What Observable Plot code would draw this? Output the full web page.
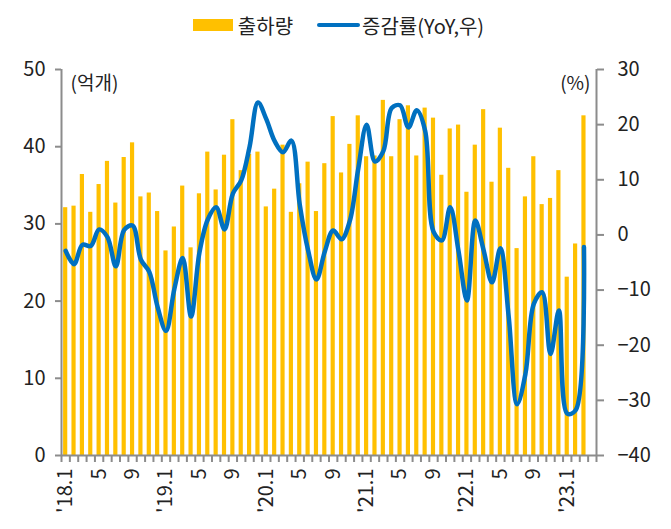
<!DOCTYPE html>
<html><head><meta charset="utf-8">
<script src="https://cdn.jsdelivr.net/npm/d3@7"></script>
<script src="https://cdn.jsdelivr.net/npm/@observablehq/plot@0.6"></script>
<style>
body{margin:0;background:#fff;font-family:"Noto Sans CJK KR","Noto Sans",sans-serif;color:#222;}
#legend{height:50px;display:flex;justify-content:center;align-items:center;font-size:20px;padding-left:6px;box-sizing:border-box;}
#legend .sw{display:inline-block;}
</style></head><body>
<div id="legend">
  <span class="sw" style="width:40px;height:12px;background:#FFC000;margin-right:5px"></span><span>출하량</span>
  <span class="sw" style="width:43px;height:4px;background:#0070C0;border-radius:2px;margin-left:24px;margin-right:2px"></span><span>증감률(YoY,우)</span>
</div>
<div id="chart"></div>
<script>
// 출하량 (억개), 2018.1 ~ 2023.3
const shipments = [
  32.1, 32.3, 36.4, 31.5, 35.1, 38.1, 32.7, 38.6, 40.5, 33.5, 34.0, 31.6,
  26.5, 29.6, 34.9, 26.9, 33.9, 39.3, 34.4, 38.9, 43.5, 36.9, 39.0, 39.3,
  32.2, 34.5, 40.2, 31.5, 35.2, 38.0, 31.6, 37.8, 43.9, 36.6, 40.3, 44.0,
  38.7, 38.8, 46.0, 38.7, 43.5, 45.3, 38.8, 45.0, 43.7, 36.3, 42.3, 42.8,
  34.1, 40.2, 44.8, 35.4, 42.4, 37.2, 26.8, 33.5, 38.7, 32.5, 33.3, 36.9,
  23.1, 27.4, 44.0
];
// 증감률 (YoY, %)
const yoy = [
  -2.9, -5.3, -1.8, -2.0, 1.0, -0.4, -5.7, 0.9, 1.7, -4.5, -6.7, -13.1,
  -17.4, -9.8, -4.2, -14.8, -3.2, 2.8, 5.0, 1.0, 7.5, 9.9, 16.0, 24.0,
  21.0, 17.0, 15.0, 17.1, 5.5, -2.8, -8.1, -3.0, 0.8, -0.8, 2.6, 12.0,
  20.0, 13.3, 15.2, 23.0, 23.5, 19.5, 22.6, 18.9, 0.6, -1.0, 5.0, -3.0,
  -11.9, 2.6, -2.8, -8.6, -2.4, -14.9, -30.7, -25.2, -12.5, -10.4, -21.6, -13.7,
  -32.4, -31.8, -2.2
];
const slotCount = 64; // monthly slots on the axis (2018.1 ~ 2023.4)
const tickLabels = ["'18.1","5","9","'19.1","5","9","'20.1","5","9","'21.1","5","9","'22.1","5","9","'23.1"];
const tickEvery = 4;
const leftTicks = [0, 10, 20, 30, 40, 50];
const rightTicks = [-40, -30, -20, -10, 0, 10, 20, 30];
const leftDomain = [0, 50];
const rightDomain = [-40, 30];

const toLeft = p => (p - rightDomain[0]) * (leftDomain[1] - leftDomain[0]) / (rightDomain[1] - rightDomain[0]) + leftDomain[0];
const toRight = v => (v - leftDomain[0]) * (rightDomain[1] - rightDomain[0]) / (leftDomain[1] - leftDomain[0]) + rightDomain[0];
const fmt = n => { const r = Math.round(n); return r < 0 ? "\u2212" + Math.abs(r) : String(r); };

const data = shipments.map((v, i) => ({i, v, yoy: yoy[i]}));
const labels = tickLabels.map((t, k) => ({i: k * tickEvery, t}));
const gray = "#8c8c8c";

const chart = Plot.plot({
  width: 671,
  height: 479,
  marginTop: 19,
  marginBottom: 74,
  marginLeft: 61,
  marginRight: 75,
  style: {fontFamily: '"Noto Sans CJK KR","Noto Sans",sans-serif', fontSize: "20px", color: "#222", background: "#fff"},
  x: {domain: [0, slotCount]},
  y: {domain: leftDomain},
  marks: [
    Plot.rectY(data, {x1: d => d.i + 0.25, x2: d => d.i + 0.75, y: "v", fill: "#FFC000"}),
    Plot.line(data, {x: d => d.i + 0.5, y: d => toLeft(d.yoy), stroke: "#0070C0", strokeWidth: 4.5, curve: "catmull-rom"}),
    Plot.ruleY([0], {stroke: gray, strokeWidth: 2}),
    Plot.ruleX([0, slotCount], {stroke: gray, strokeWidth: 2}),
    Plot.axisY(leftTicks, {anchor: "left", label: null, tickSize: 6, tickPadding: 10, stroke: gray, strokeWidth: 2, fill: "#222", fontSize: 20, tickFormat: fmt}),
    Plot.axisY(rightTicks.map(toLeft), {anchor: "right", label: null, tickSize: 7, tickPadding: 14, stroke: gray, strokeWidth: 2, fill: "#222", fontSize: 20, tickFormat: v => fmt(toRight(v))}),
    Plot.axisX(d3.range(slotCount + 1), {anchor: "bottom", label: null, tickSize: 7, stroke: gray, strokeWidth: 2, tickFormat: () => ""}),
    Plot.text(labels, {x: d => d.i + 0.5, frameAnchor: "bottom", text: "t", rotate: -90, textAnchor: "end", lineAnchor: "middle", dy: 13, fontSize: 20, fill: "#222"}),
    Plot.text(["(억개)"], {frameAnchor: "top-left", textAnchor: "start", lineAnchor: "middle", dx: 9, dy: 14, fontSize: 19, fill: "#222"}),
    Plot.text(["(%)"], {frameAnchor: "top-right", textAnchor: "end", lineAnchor: "middle", dx: -6, dy: 14, fontSize: 19, fill: "#222"})
  ]
});
document.getElementById("chart").appendChild(chart);
</script>
</body></html>
